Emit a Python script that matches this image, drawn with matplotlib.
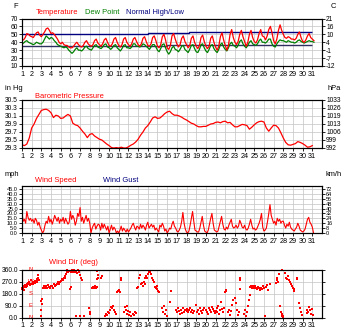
import matplotlib
matplotlib.use("Agg")
import matplotlib.pyplot as plt

plt.rcParams['font.family'] = ['Liberation Sans', 'DejaVu Sans']

W, H = 350, 336
days = list(range(1, 32))

# ---------- data ----------
# temperature (F), every 4 hours
temp_f = [
    [43, 43, 46, 51, 50, 48], [47, 46, 49, 52, 53, 49], [47, 50, 53, 57, 58, 55],
    [51, 52, 50, 47, 44, 40], [38, 40, 37, 36, 36, 34], [33, 33, 35, 38, 40, 37],
    [35, 34, 36, 40, 42, 38], [36, 35, 37, 42, 44, 39], [37, 35, 38, 43, 45, 40],
    [36, 35, 38, 44, 46, 40], [36, 34, 37, 44, 46, 40], [37, 35, 38, 44, 46, 41],
    [37, 35, 38, 45, 47, 41], [36, 35, 38, 46, 48, 42], [35, 33, 37, 47, 50, 43],
    [33, 31, 36, 48, 51, 44], [38, 34, 37, 45, 48, 41], [37, 33, 36, 45, 48, 40],
    [35, 32, 36, 46, 49, 41], [35, 32, 35, 45, 48, 40], [34, 30, 35, 47, 52, 43],
    [36, 30, 36, 50, 56, 46], [40, 37, 41, 50, 55, 47], [41, 35, 40, 50, 55, 46],
    [41, 39, 43, 51, 56, 48], [47, 43, 48, 56, 60, 52], [42, 38, 44, 55, 62, 55],
    [50, 46, 45, 47, 46, 44], [44, 43, 45, 50, 53, 46], [41, 40, 43, 48, 51, 46],
    [44, 42],
]
dew_f = [
    [38, 39, 41, 42, 40, 39], [38, 37, 38, 40, 39, 38], [38, 40, 44, 48, 46, 44],
    [46, 45, 42, 40, 37, 36], [35, 34, 33, 34, 33, 30], [28, 26, 28, 31, 33, 30],
    [30, 29, 31, 34, 35, 32], [31, 30, 33, 36, 37, 34], [33, 32, 34, 37, 38, 34],
    [33, 31, 33, 36, 37, 33], [31, 29, 32, 36, 37, 33], [33, 32, 34, 38, 38, 35],
    [35, 34, 35, 38, 37, 35], [33, 31, 34, 37, 37, 34], [30, 28, 32, 37, 38, 33],
    [28, 25, 28, 33, 35, 31], [30, 28, 31, 35, 36, 31], [29, 27, 31, 36, 37, 32],
    [28, 27, 31, 37, 38, 33], [29, 27, 31, 36, 37, 32], [29, 27, 31, 37, 39, 34],
    [31, 29, 33, 38, 40, 36], [35, 33, 36, 41, 43, 38], [35, 33, 36, 40, 42, 38],
    [37, 36, 38, 42, 44, 40], [40, 39, 41, 44, 44, 38], [35, 34, 38, 41, 43, 42],
    [42, 41, 40, 42, 41, 40], [40, 39, 40, 42, 43, 41], [40, 39, 40, 41, 42, 41],
    [41, 40],
]
normal_edges = [1, 14, 18.3, 31]
normal_high = [50, 51.5, 53]
normal_low_edges = [1, 16, 21, 31]
normal_low = [35, 36, 37]
temp_ticks = [10, 20, 30, 40, 50, 60, 70]
temp_c_labels = ['-12', '-7', '-1', '4', '10', '16', '21']

# barometric pressure (inHg), every 6 hours
press_in = [
    [29.38, 29.36, 29.40, 29.55], [29.80, 29.90, 30.04, 30.14], [30.24, 30.26, 30.27, 30.24],
    [30.18, 30.06, 30.12, 30.10], [30.04, 30.05, 30.10, 30.14], [30.10, 29.92, 29.88, 29.86],
    [29.80, 29.72, 29.65, 29.56], [29.64, 29.66, 29.60, 29.56], [29.52, 29.50, 29.45, 29.40],
    [29.36, 29.31, 29.30, 29.31], [29.30, 29.32, 29.30, 29.30], [29.33, 29.37, 29.40, 29.45],
    [29.52, 29.62, 29.70, 29.80], [29.86, 29.95, 30.05, 30.08], [30.04, 30.05, 30.10, 30.16],
    [30.20, 30.22, 30.16, 30.12], [30.12, 30.10, 30.07, 30.03], [30.00, 29.96, 29.92, 29.90],
    [29.86, 29.83, 29.83, 29.84], [29.84, 29.87, 29.90, 29.91], [29.94, 29.95, 29.93, 29.96],
    [29.97, 29.93, 29.94, 29.88], [29.83, 29.83, 29.86, 29.89], [29.88, 29.86, 29.77, 29.82],
    [29.88, 29.93, 29.96, 29.97], [29.95, 29.80, 29.72, 29.80], [29.87, 29.86, 29.80, 29.68],
    [29.55, 29.44, 29.38, 29.37], [29.39, 29.41, 29.46, 29.44], [29.41, 29.37, 29.32, 29.33],
    [29.36],
]
press_ticks = [29.3, 29.5, 29.7, 29.9, 30.1, 30.3, 30.5]
press_labels = ['29.3', '29.5', '29.7', '29.9', '30.1', '30.3', '30.5']
hpa_labels = ['992', '999', '1006', '1013', '1019', '1026', '1033']

# wind speed (mph), every 3 hours
wind_mph = [
    [20, 12, 14, 10, 22, 16, 13, 15], [12, 14, 10, 15, 13, 8, 11, 6], [3, 0, 2, 8, 12, 10, 17, 11],
    [14, 9, 13, 18, 15, 12, 16, 10], [14, 12, 16, 10, 15, 12, 9, 11], [22, 14, 18, 15, 8, 12, 20, 17],
    [26, 12, 16, 10, 14, 18, 12, 15], [10, 0, 5, 8, 10, 4, 7, 9], [8, 3, 10, 5, 9, 6, 3, 7],
    [0, 4, 8, 3, 6, 4, 0, 2], [0, 3, 7, 2, 5, 3, 1, 4], [1, 3, 5, 8, 10, 6, 3, 7],
    [6, 4, 9, 5, 8, 6, 3, 8], [11, 5, 7, 9, 6, 8, 3, 5], [3, 1, 8, 6, 10, 7, 2, 4],
    [0, 2, 5, 4, 9, 12, 7, 5], [2, 1, 3, 6, 12, 21, 10, 4], [1, 0, 2, 8, 15, 22, 12, 3],
    [2, 1, 1, 5, 11, 17, 8, 2], [1, 0, 3, 9, 15, 20, 10, 3], [2, 1, 2, 7, 12, 17, 9, 4],
    [3, 6, 4, 8, 11, 14, 7, 5], [6, 8, 5, 7, 13, 10, 6, 5], [8, 4, 3, 5, 9, 14, 8, 4],
    [5, 3, 4, 7, 10, 14, 20, 6], [2, 3, 5, 12, 20, 29, 18, 14], [10, 12, 8, 15, 12, 14, 10, 12],
    [12, 8, 5, 9, 7, 11, 6, 4], [3, 2, 4, 6, 10, 7, 3, 2], [1, 2, 4, 9, 14, 16, 11, 9],
    [6, 0],
]
wind_ticks = [0, 5, 10, 15, 20, 25, 30, 35, 40, 45]
wind_labels = ['0.0', '5.0', '10.0', '15.0', '20.0', '25.0', '30.0', '35.0', '40.0', '45.0']
kmh_labels = ['0', '8', '16', '24', '32', '40', '48', '56', '64', '72']

# wind direction (deg)
wdir_t = [1.0, 1.05, 1.1, 1.15, 1.2, 1.25, 1.3, 1.35, 1.4, 1.5, 1.55, 1.6, 1.7, 1.75, 1.8, 1.9, 1.95,
          2.0, 2.1, 2.15, 2.2, 2.3, 2.35, 2.4, 2.5, 2.55, 2.6, 2.65, 2.7, 2.75,
          3.0, 3.02, 3.05, 2.95, 2.98,
          3.2, 3.25, 3.3, 3.4, 3.5, 3.6, 3.7, 3.8, 3.9, 4.0, 4.1, 4.2, 4.3, 4.4, 4.5,
          4.6, 4.7, 4.8, 4.9, 5.0, 5.1, 5.2, 5.3, 5.4, 5.45, 5.5, 5.6, 5.7, 5.8, 5.9,
          6.0, 6.05, 6.1, 6.2, 6.3, 6.4, 6.5, 6.6, 6.7, 6.8, 6.9, 6.6, 6.95,
          7.0, 7.1, 7.2, 7.4, 7.9, 8.0, 8.05,
          8.2, 8.3, 8.4, 8.5, 8.6, 8.7, 8.75, 8.8, 8.85, 8.9, 9.2, 9.3,
          9.6, 9.7, 9.8, 9.9, 10.0, 10.1, 10.2, 10.3, 10.4, 10.5, 10.6, 10.7, 10.8, 10.9, 11.0,
          11.1, 11.2, 11.25, 11.5, 11.6, 11.7, 11.8, 11.9, 12.0, 12.1, 12.2, 12.3,
          12.5, 12.6, 12.7, 12.8, 12.9, 13.0, 13.1, 13.2, 13.25, 13.4, 13.5, 13.6, 13.7,
          13.75, 13.85, 13.95, 14.0, 14.1, 14.2, 14.3, 14.4, 14.5, 14.6,
          14.7, 14.8, 14.9, 15.0, 15.1, 15.2, 15.5, 15.6, 15.7, 15.8, 15.9, 16.0, 16.3, 16.35,
          16.9, 17.0, 17.1, 17.2, 17.3, 17.4, 17.5, 17.6, 17.7, 17.8,
          18.0, 18.1, 18.2, 18.3, 18.4, 18.5, 18.6, 18.7, 18.8,
          19.0, 19.1, 19.2, 19.3, 19.4, 19.5, 19.6, 19.7, 19.8,
          20.0, 20.1, 20.2, 20.3, 20.4, 20.5, 20.6, 20.7, 20.8, 20.9,
          21.0, 21.1, 21.2, 21.3, 21.4, 21.5, 21.6, 21.7, 21.8, 21.9,
          22.0, 22.05, 22.1, 22.3, 22.4, 22.5, 22.6, 22.7, 22.8,
          23.0, 23.1, 23.2, 23.3, 23.4, 23.5, 23.55, 23.52,
          23.9, 24.0, 24.1, 24.2, 24.4, 24.5, 24.55,
          24.6, 24.7, 24.8, 24.9, 25.0, 25.1, 25.2, 25.3, 25.4, 25.5, 25.6, 25.7,
          25.8, 25.9, 26.0, 26.2, 26.3, 26.4, 26.1, 26.6,
          27.2, 27.3, 27.4, 27.5, 27.6, 27.7, 27.8, 27.85, 27.9, 28.0, 27.95, 27.9,
          28.2, 28.3, 28.4, 28.5, 28.6, 28.7, 28.8, 28.9, 29.0, 29.1, 29.15, 29.4, 29.45,
          29.6, 29.7, 29.8, 29.9, 30.4, 30.5, 30.6, 30.7, 30.8, 30.9, 31.0, 31.05]
wdir_deg = [225, 215, 235, 220, 230, 210, 240, 245, 230, 255, 240, 260, 250, 270, 245, 255, 280,
            250, 265, 255, 270, 260, 275, 265, 280, 270, 290, 300, 320, 285,
            125, 105, 140, 55, 10,
            225, 240, 230, 220, 235, 225, 245, 230, 220, 235, 240, 225, 250, 235, 245,
            255, 265, 250, 270, 275, 290, 280, 300, 310, 295, 330, 345, 355, 340, 350,
            215, 230, 340, 355, 345, 355, 340, 350, 335, 355, 345, 15, 10,
            320, 300, 285, 10, 70, 40, 25,
            225, 230, 220, 235, 225, 230, 290, 350, 320, 300, 300, 310,
            10, 30, 20, 45, 35, 60, 80, 70, 90, 55, 45, 30, 190, 200, 210,
            195, 285, 300, 40, 80, 60, 90, 30, 50, 20, 40, 15,
            30, 20, 45, 35, 220, 230, 300, 320, 255, 260, 240, 270, 250,
            300, 310, 295, 330, 345, 340, 325, 300, 280, 265,
            230, 220, 240, 215, 200, 195, 70, 40, 90, 25, 60, 15, 120, 200,
            60, 40, 75, 50, 30, 55, 35, 70, 45, 60,
            50, 65, 40, 55, 70, 45, 60, 35, 50,
            95, 40, 60, 30, 70, 50, 35, 55, 75,
            60, 45, 30, 70, 55, 40, 80, 65, 50, 35,
            50, 70, 40, 85, 30, 55, 120, 65, 45, 75,
            190, 210, 200, 40, 60, 20, 50, 95, 130,
            150, 110, 60, 20, 45, 300, 280, 215,
            30, 60, 10, 45, 90, 130, 170,
            230, 240, 225, 235, 220, 240, 225, 215, 230, 220, 205, 225,
            215, 240, 220, 230, 245, 210, 15, 255,
            260, 280, 300, 270, 330, 90, 40, 10, 25, 15, 5, 360,
            335, 300, 290, 310, 285, 265, 250, 240, 225, 215, 200, 300, 290,
            110, 70, 40, 20, 35, 60, 45, 80, 55, 30, 65, 20]
dir_ticks = [0, 90, 180, 270, 360]
dir_labels = ['0.0', '90.0', '180.0', '270.0', '360.0']
compass = ['N', 'E', 'S', 'W', 'N']


def series(rows):
    # spread each day's samples evenly over that day
    n = len(rows[0])
    t, v = [], []
    for i, row in enumerate(rows):
        for j, val in enumerate(row):
            t.append(days[i] + j / n)
            v.append(val)
    return t, v


# ---------- figure ----------
fig = plt.figure(figsize=(W / 100, H / 100), dpi=100)
RED, GREEN, NAVY = '#ff0000', '#008000', '#000080'
TICK_FS = 4.8
TITLE_FS = 5.4


def px_axes(top, bottom, left=22, right=322):
    return fig.add_axes([left / W, 1 - bottom / H, (right - left) / W, (bottom - top) / H])


def label(x, y, s, color='black', size=TITLE_FS, ha='left'):
    fig.text(x / W, 1 - y / H, s, color=color, fontsize=size, ha=ha, va='center')


def style(ax, ticks, left_labels, right_labels, ylim, yfs=TICK_FS):
    ax.set_xlim(1, 32)
    ax.set_ylim(*ylim)
    ax.set_xticks(days)
    ax.set_xticklabels([str(d) for d in days])
    ax.set_yticks(ticks)
    ax.set_yticklabels(left_labels)
    ax.grid(True, color='#c4c4c4', lw=0.5)
    ax.set_axisbelow(True)
    ax.tick_params(axis='x', labelsize=TICK_FS + 0.4, length=2, width=0.6, pad=1.5)
    ax.tick_params(axis='y', labelsize=yfs, length=2, width=0.6, pad=1)
    for s in ax.spines.values():
        s.set_linewidth(0.8)
    tw = ax.twinx()
    tw.set_ylim(*ylim)
    tw.set_yticks(ticks)
    tw.set_yticklabels(right_labels)
    tw.tick_params(labelsize=yfs, length=2, width=0.6, pad=1)
    return tw


# temperature
ax1 = px_axes(18.5, 66)
t, v = series(temp_f)
ax1.stairs(normal_high, normal_edges, color=NAVY, lw=1.0, baseline=None)
ax1.stairs(normal_low, normal_low_edges, color='#303060', lw=1.0, baseline=None)
td, vd = series(dew_f)
ax1.plot(td, vd, color=GREEN, lw=0.9)
ax1.plot(t, v, color=RED, lw=0.9)
style(ax1, temp_ticks, [str(x) for x in temp_ticks], temp_c_labels, (10, 70))
label(13, 6, 'F')
label(331, 6, 'C')
label(36, 12, 'Temperature', RED)
label(85, 12, 'Dew Point', GREEN)
label(126, 12, 'Normal High/Low', NAVY)

# pressure
ax2 = px_axes(100, 148)
tp, vp = series(press_in)
ax2.plot(tp, vp, color=RED, lw=0.9)
style(ax2, press_ticks, press_labels, hpa_labels, (29.3, 30.5))
label(5, 88, 'in Hg')
label(327, 88, 'hPa')
label(35, 96, 'Barometric Pressure', RED)

# wind speed
ax3 = px_axes(186, 233)
tw_, vw = series(wind_mph)
ax3.plot(tw_, vw, color=RED, lw=0.8)
style(ax3, wind_ticks, wind_labels, kmh_labels, (0, 48), yfs=4.0)
label(5, 175, 'mph')
label(326, 175, 'km/h')
label(35, 181, 'Wind Speed', RED)
label(103, 181, 'Wind Gust', NAVY)

# wind direction
ax4 = px_axes(269.5, 317.5)
ax4.plot(wdir_t, wdir_deg, 's', color=RED, ms=2.0, mew=0, clip_on=False)
for deg, c in zip(dir_ticks, compass):
    ax4.text(1.85, deg, c, color=RED, fontsize=4.2, ha='center', va='center')
tw4 = style(ax4, dir_ticks, dir_labels, ['' for _ in dir_ticks], (0, 360))
label(49, 262, 'Wind Dir (deg)', RED)

fig.savefig('out.png', dpi=100)
